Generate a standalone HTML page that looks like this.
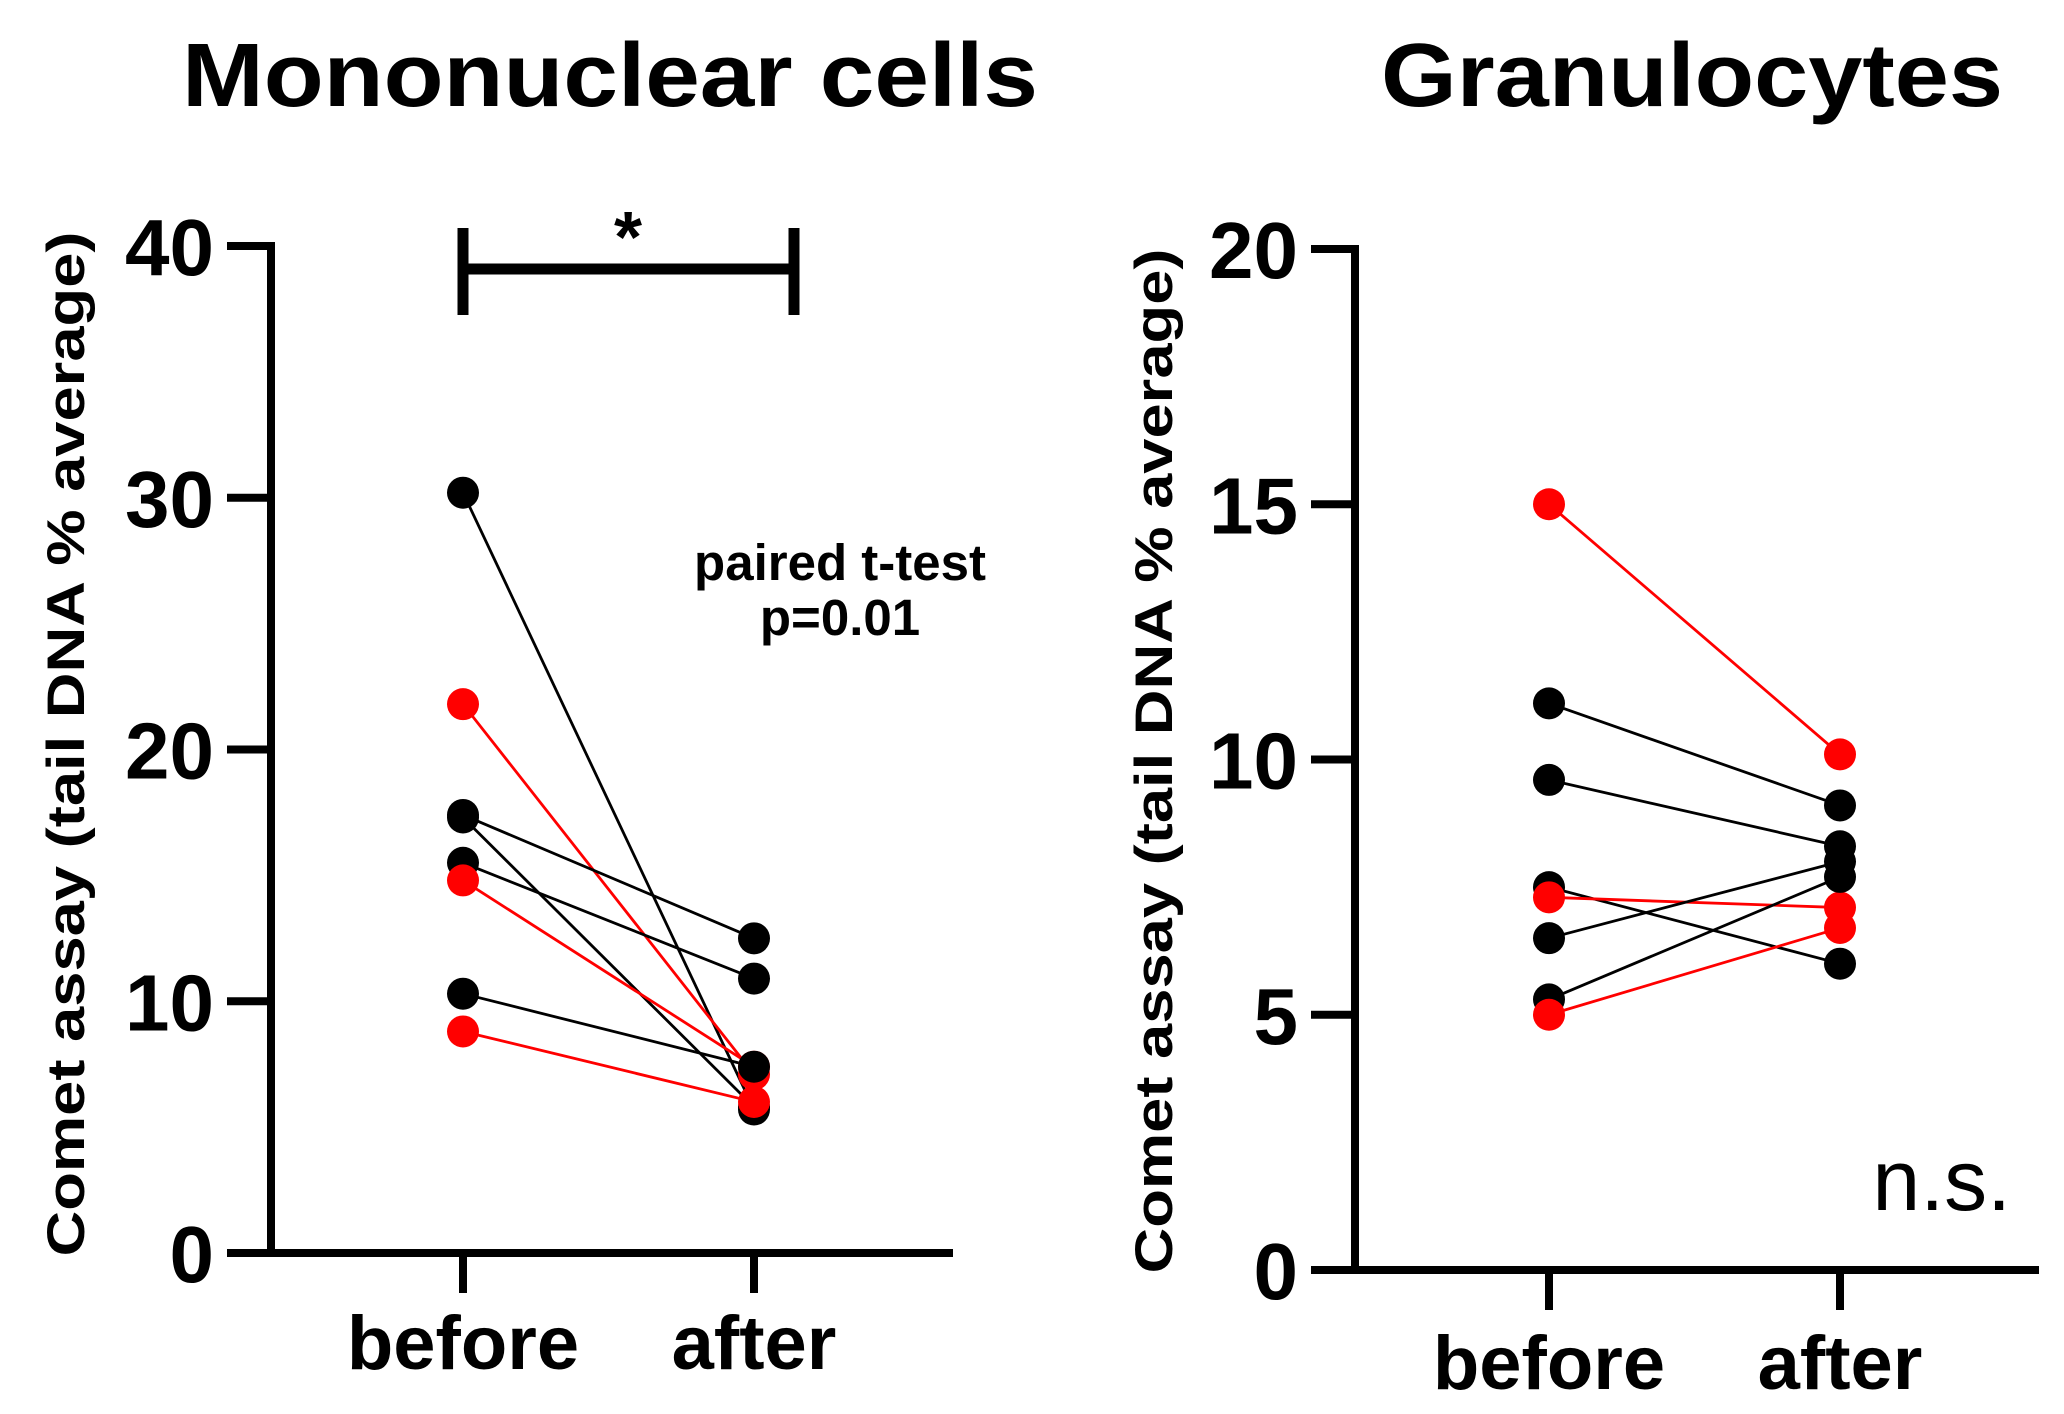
<!DOCTYPE html>
<html><head><meta charset="utf-8"><style>
body{margin:0;background:#fff;}
svg{display:block;font-family:"Liberation Sans",Arial,sans-serif;}
</style></head><body>
<svg id="c" width="2064" height="1414" viewBox="0 0 2064 1414">
<text x="610" y="106" font-size="90" font-weight="bold" text-anchor="middle" textLength="856" lengthAdjust="spacingAndGlyphs">Mononuclear cells</text>
<text x="1692" y="106" font-size="90" font-weight="bold" text-anchor="middle" textLength="622" lengthAdjust="spacingAndGlyphs">Granulocytes</text>
<g id="p1"></g>
<g id="p2"></g>
</svg>
<script>
const categories = ["before", "after"];
const mnBefore = [30.2, 21.8, 17.4, 17.3, 15.5, 14.8, 10.3, 8.8];
const mnAfter = [5.7, 7.1, 12.5, 5.8, 10.9, 7.4, 7.4, 6.0];
const mnColors = ["black", "red", "black", "black", "black", "red", "black", "red"];
const mnTicks = [0, 10, 20, 30, 40];
const grBefore = [15.0, 11.1, 9.6, 7.5, 7.3, 6.5, 5.3, 5.0];
const grAfter = [10.1, 9.1, 8.3, 6.0, 7.1, 8.0, 7.7, 6.7];
const grColors = ["red", "black", "black", "black", "red", "black", "black", "red"];
const grTicks = [0, 5, 10, 15, 20];

const NS = "http://www.w3.org/2000/svg";
function mk(tag, attrs, parent){const e=document.createElementNS(NS,tag);for(const k in attrs)e.setAttribute(k,attrs[k]);parent.appendChild(e);return e;}

function panel(g, cfg, before, after, colors, ticks){
  const y = v => cfg.y0 - (v - ticks[0])/(ticks[ticks.length-1]-ticks[0])*(cfg.y0-cfg.yTop);
  const x = i => cfg.xs[i];
  let e;
  for(let i=0;i<before.length;i++){
    const col = colors[i]==="red" ? "#ff0000" : "#000";
    e=mk("line",{x1:x(0),y1:y(before[i]),x2:x(1),y2:y(after[i]),stroke:col,"stroke-width":2.8},g);
    
    
  }
  for(let i=0;i<before.length;i++){
    const col = colors[i]==="red" ? "#ff0000" : "#000";
    e=mk("circle",{cx:x(0),cy:y(before[i]),r:16,fill:col},g);
    
    
    e=mk("circle",{cx:x(1),cy:y(after[i]),r:16,fill:col},g);
    
    
  }
  e=mk("line",{x1:cfg.ax,y1:y(ticks[ticks.length-1])-4,x2:cfg.ax,y2:cfg.y0+4,stroke:"#000","stroke-width":8},g);
  
  
  e=mk("line",{x1:cfg.ax-4,y1:cfg.y0,x2:cfg.xEnd,y2:cfg.y0,stroke:"#000","stroke-width":8},g);
  
  
  ticks.forEach(t=>{
    e=mk("line",{x1:cfg.ax-44,y1:y(t),x2:cfg.ax,y2:y(t),stroke:"#000","stroke-width":8},g);
    
    
    e=mk("text",{x:cfg.ax-57,y:y(t)+29,"font-size":80,"font-weight":"bold","text-anchor":"end"},g);
    e.textContent=t;
    
    
  });
  categories.forEach((c,i)=>{
    e=mk("line",{x1:x(i),y1:cfg.y0,x2:x(i),y2:cfg.y0+40,stroke:"#000","stroke-width":8},g);
    
    
    e=mk("text",{x:x(i),y:cfg.labY,"font-size":76,"font-weight":"bold","text-anchor":"middle"},g);
    e.textContent=c;
    
    
  });
  e=mk("text",{x:0,y:0,"font-size":53,"font-weight":"bold","text-anchor":"middle",textLength:1025,lengthAdjust:"spacingAndGlyphs",transform:`translate(${cfg.titleX},${cfg.titleY}) rotate(-90)`},g);
  e.textContent="Comet assay (tail DNA % average)";
  
  
}
panel(document.getElementById("p1"),{ax:271,y0:1253,yTop:246,xs:[463,754],xEnd:953,labY:1369,titleX:84,titleY:744},mnBefore,mnAfter,mnColors,mnTicks);
panel(document.getElementById("p2"),{ax:1355,y0:1270,yTop:249,xs:[1549,1840],xEnd:2039,labY:1389,titleX:1172,titleY:761},grBefore,grAfter,grColors,grTicks);

const p1=document.getElementById("p1");
let e;
e=mk("path",{d:"M463 228 V315 M463 269 H794 M794 228 V315",stroke:"#000","stroke-width":11,fill:"none"},p1);


e=mk("text",{x:628,y:262,"font-size":72,"font-weight":"bold","text-anchor":"middle"},p1);
e.textContent="*";


e=mk("text",{x:840,y:580,"font-size":51,"font-weight":"bold","text-anchor":"middle"},p1);
e.textContent="paired t-test";


e=mk("text",{x:840,y:635,"font-size":51,"font-weight":"bold","text-anchor":"middle"},p1);
e.textContent="p=0.01";


const p2=document.getElementById("p2");
e=mk("text",{x:2011,y:1210,"font-size":86,"text-anchor":"end"},p2);
e.textContent="n.s.";


</script>
</body></html>
